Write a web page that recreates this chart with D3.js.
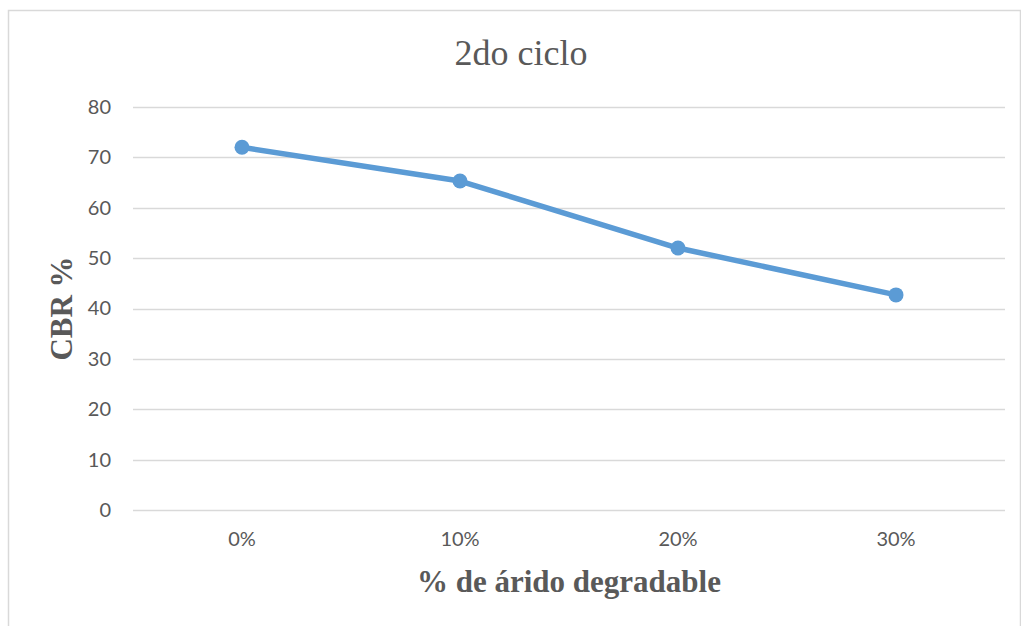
<!DOCTYPE html>
<html>
<head>
<meta charset="utf-8">
<script src="https://cdn.jsdelivr.net/npm/d3@7"></script>
<style>
  html, body { margin: 0; padding: 0; background: #fff; }
  svg { display: block; }
</style>
</head>
<body>
<svg id="chart" width="1021" height="626"></svg>
<script>
// Data
const categories = ["0%", "10%", "20%", "30%"];
const cbrValues = [72, 65.3, 52, 42.7];
const yTicks = [0, 10, 20, 30, 40, 50, 60, 70, 80];
const titleText = "2do ciclo";
const xTitle = "% de árido degradable";
const yTitle = "CBR %";

const svg = d3.select("#chart");
const textColor = "#595959";
const gridColor = "#d9d9d9";
const lineColor = "#5b9bd5";

const plot = { left: 133, right: 1005, top: 107, bottom: 510 };

// Outer frame
svg.append("rect")
  .attr("x", 8.5).attr("y", 10.5)
  .attr("width", 1012).attr("height", 620)
  .attr("fill", "#fff")
  .attr("stroke", gridColor)
  .attr("stroke-width", 1.5);

const x = d3.scaleBand()
  .domain(categories)
  .range([plot.left, plot.right])
  .paddingInner(0).paddingOuter(0);

const y = d3.scaleLinear()
  .domain([0, 80])
  .range([plot.bottom, plot.top]);

// Horizontal gridlines
svg.append("g")
  .selectAll("line")
  .data(yTicks)
  .join("line")
  .attr("x1", plot.left).attr("x2", plot.right)
  .attr("y1", d => Math.round(y(d)) + 0.5)
  .attr("y2", d => Math.round(y(d)) + 0.5)
  .attr("stroke", gridColor)
  .attr("stroke-width", 1.3);

// Y axis labels
const yAxis = d3.axisLeft(y).tickValues(yTicks).tickSize(0).tickPadding(22);
const gy = svg.append("g")
  .attr("transform", `translate(${plot.left},0)`)
  .call(yAxis);
gy.select(".domain").remove();
gy.selectAll("text")
  .attr("fill", textColor)
  .style("font-family", "Lato, 'Open Sans', sans-serif")
  .style("font-size", "20px");

// X axis labels
const xAxis = d3.axisBottom(x).tickSize(0).tickPadding(22);
const gx = svg.append("g")
  .attr("transform", `translate(0,${plot.bottom})`)
  .call(xAxis);
gx.select(".domain").remove();
gx.selectAll("text")
  .attr("fill", textColor)
  .style("font-family", "Lato, 'Open Sans', sans-serif")
  .style("font-size", "20px");

// Series line
const pts = categories.map((c, i) => [x(c) + x.bandwidth() / 2, y(cbrValues[i])]);
svg.append("path")
  .datum(pts)
  .attr("d", d3.line())
  .attr("fill", "none")
  .attr("stroke", lineColor)
  .attr("stroke-width", 5.5)
  .attr("stroke-linejoin", "round")
  .attr("stroke-linecap", "round");

svg.append("g")
  .selectAll("circle")
  .data(pts)
  .join("circle")
  .attr("cx", d => d[0])
  .attr("cy", d => d[1])
  .attr("r", 7.5)
  .attr("fill", lineColor);

// Title
svg.append("text")
  .attr("x", 521).attr("y", 65)
  .attr("text-anchor", "middle")
  .attr("fill", textColor)
  .style("font-family", "'Liberation Serif', 'Times New Roman', serif")
  .style("font-size", "36px")
  .text(titleText);

// X axis title
svg.append("text")
  .attr("x", (plot.left + plot.right) / 2).attr("y", 592)
  .attr("text-anchor", "middle")
  .attr("fill", textColor)
  .style("font-family", "'Liberation Serif', 'Times New Roman', serif")
  .style("font-size", "31px")
  .style("font-weight", "bold")
  .text(xTitle);

// Y axis title
svg.append("text")
  .attr("transform", `translate(72,${(plot.top + plot.bottom) / 2}) rotate(-90)`)
  .attr("text-anchor", "middle")
  .attr("fill", textColor)
  .style("font-family", "'Liberation Serif', 'Times New Roman', serif")
  .style("font-size", "31px")
  .style("font-weight", "bold")
  .text(yTitle);
</script>
</body>
</html>
